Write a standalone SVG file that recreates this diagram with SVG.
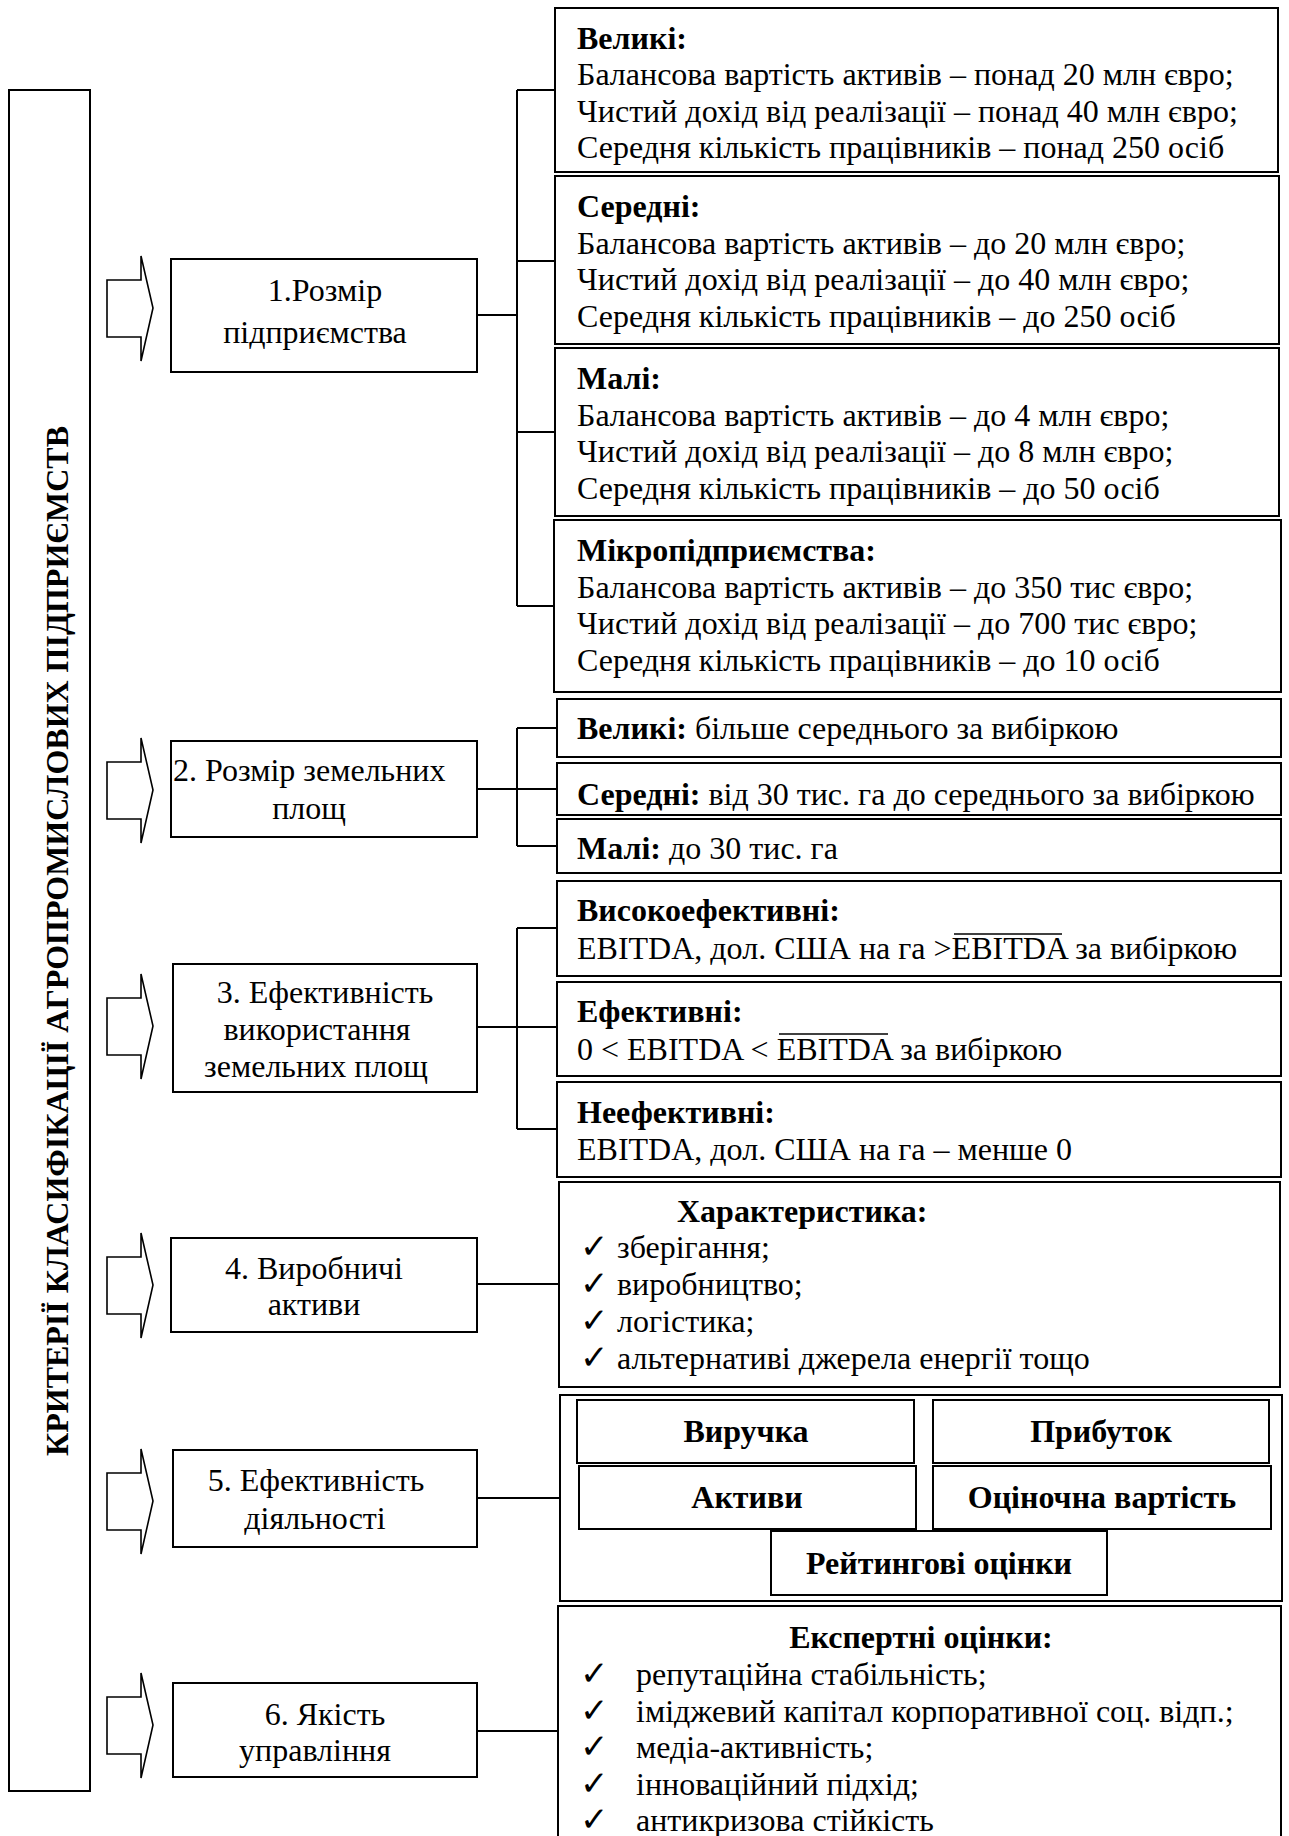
<svg xmlns="http://www.w3.org/2000/svg" xmlns:xlink="http://www.w3.org/1999/xlink" width="1289" height="1836" viewBox="0 0 1289 1836">
  <style>
    .box { fill: #fff; stroke: #000; stroke-width: 2; }
    .ln { fill: none; stroke: #000; stroke-width: 2; }
    .ovl { fill: none; stroke: #000; stroke-width: 1.5; }
    .arrow { fill: #fff; stroke: #000; stroke-width: 1.6; stroke-linejoin: miter; }
    .t { font-family: "Liberation Serif", "Times New Roman", serif; font-size: 32px; fill: #000; }
    .b { font-weight: bold; }
    .c { text-anchor: middle; }
    .chk { font-family: "DejaVu Sans", sans-serif; font-size: 34px; fill: #000; }
  </style>
  <defs>
    <!-- block arrow pointing right, origin at the tip's vertical centre -->
    <path id="arr" class="arrow" d="M0,-28 H34 V-52 L46,0 L34,53 V29 H0 Z"/>
    <clipPath id="clipLandMid"><rect x="557" y="763" width="724" height="51"/></clipPath>
  </defs>
  <rect width="1289" height="1836" fill="#fff"/>

  <!-- vertical title -->
  <g id="title">
    <rect class="box" x="9" y="90" width="81" height="1701"/>
    <text class="t b c" font-size="33" transform="translate(68,941) rotate(-90)" textLength="1030">КРИТЕРІЇ КЛАСИФІКАЦІЇ АГРОПРОМИСЛОВИХ ПІДПРИЄМСТВ</text>
  </g>

  <!-- block arrows -->
  <g id="arrows">
    <use xlink:href="#arr" x="107" y="308"/>
    <use xlink:href="#arr" x="107" y="790"/>
    <use xlink:href="#arr" x="107" y="1026"/>
    <use xlink:href="#arr" x="107" y="1285"/>
    <use xlink:href="#arr" x="107" y="1501"/>
    <use xlink:href="#arr" x="107" y="1725"/>
  </g>

  <!-- connectors -->
  <g id="connectors" class="ln">
    <path d="M477,315 H517 M517,90 V606 M517,90 H555 M517,261 H555 M517,432 H555 M517,606 H554"/>
    <path d="M477,789 H517 M517,728 V846 M517,728 H557 M517,789 H557 M517,846 H557"/>
    <path d="M477,1027 H517 M517,928 V1129 M517,928 H557 M517,1027 H557 M517,1129 H557"/>
    <path d="M477,1284 H559"/>
    <path d="M477,1498 H560"/>
    <path d="M477,1731 H558"/>
  </g>

  <!-- criteria -->
  <g id="c1">
    <rect class="box" x="171" y="259" width="306" height="113"/>
    <text class="t c" x="325" y="301">1.Розмір</text>
    <text class="t c" x="315" y="343">підприємства</text>
  </g>
  <g id="c2">
    <rect class="box" x="171" y="741" width="306" height="96"/>
    <text class="t" x="173" y="781">2. Розмір земельних</text>
    <text class="t c" x="309" y="819">площ</text>
  </g>
  <g id="c3">
    <rect class="box" x="173" y="964" width="304" height="128"/>
    <text class="t c" x="325" y="1003">3. Ефективність</text>
    <text class="t c" x="317" y="1040">використання</text>
    <text class="t c" x="316" y="1077">земельних площ</text>
  </g>
  <g id="c4">
    <rect class="box" x="171" y="1238" width="306" height="94"/>
    <text class="t c" x="314" y="1279">4. Виробничі</text>
    <text class="t c" x="314" y="1315">активи</text>
  </g>
  <g id="c5">
    <rect class="box" x="173" y="1450" width="304" height="97"/>
    <text class="t c" x="316" y="1491">5. Ефективність</text>
    <text class="t c" x="315" y="1529">діяльності</text>
  </g>
  <g id="c6">
    <rect class="box" x="173" y="1683" width="304" height="94"/>
    <text class="t c" x="325" y="1725">6. Якість</text>
    <text class="t c" x="315" y="1761">управління</text>
  </g>

  <!-- enterprise size -->
  <g id="size-large">
    <rect class="box" x="555" y="8" width="723" height="164"/>
    <text class="t b" x="577" y="49">Великі:</text>
    <text class="t" x="577" y="85">Балансова вартість активів – понад 20 млн євро;</text>
    <text class="t" x="577" y="121.5">Чистий дохід від реалізації – понад 40 млн євро;</text>
    <text class="t" x="577" y="158">Середня кількість працівників – понад 250 осіб</text>
  </g>
  <g id="size-medium">
    <rect class="box" x="555" y="176" width="724" height="168"/>
    <text class="t b" x="577" y="217">Середні:</text>
    <text class="t" x="577" y="253.5">Балансова вартість активів – до 20 млн євро;</text>
    <text class="t" x="577" y="290">Чистий дохід від реалізації – до 40 млн євро;</text>
    <text class="t" x="577" y="326.5">Середня кількість працівників – до 250 осіб</text>
  </g>
  <g id="size-small">
    <rect class="box" x="555" y="348" width="724" height="168"/>
    <text class="t b" x="577" y="389">Малі:</text>
    <text class="t" x="577" y="425.5">Балансова вартість активів – до 4 млн євро;</text>
    <text class="t" x="577" y="462">Чистий дохід від реалізації – до 8 млн євро;</text>
    <text class="t" x="577" y="498.5">Середня кількість працівників – до 50 осіб</text>
  </g>
  <g id="size-micro">
    <rect class="box" x="554" y="520" width="727" height="172"/>
    <text class="t b" x="577" y="561">Мікропідприємства:</text>
    <text class="t" x="577" y="597.5">Балансова вартість активів – до 350 тис євро;</text>
    <text class="t" x="577" y="634">Чистий дохід від реалізації – до 700 тис євро;</text>
    <text class="t" x="577" y="670.5">Середня кількість працівників – до 10 осіб</text>
  </g>

  <!-- land area -->
  <g id="land-large">
    <rect class="box" x="557" y="699" width="724" height="58"/>
    <text class="t" x="577" y="739"><tspan class="b">Великі:</tspan> більше середнього за вибіркою</text>
  </g>
  <g id="land-medium">
    <rect class="box" x="557" y="763" width="724" height="52"/>
    <text class="t" x="577" y="805" clip-path="url(#clipLandMid)"><tspan class="b">Середні:</tspan> від 30 тис. га до середнього за вибіркою</text>
  </g>
  <g id="land-small">
    <rect class="box" x="557" y="819" width="724" height="54"/>
    <text class="t" x="577" y="859"><tspan class="b">Малі:</tspan> до 30 тис. га</text>
  </g>

  <!-- land use efficiency -->
  <g id="eff-high">
    <rect class="box" x="557" y="881" width="724" height="95"/>
    <text class="t b" x="577" y="921">Високоефективні:</text>
    <text class="t" x="577" y="959">EBITDA, дол. США на га &gt;EBITDA за вибіркою</text>
    <line class="ovl" x1="954" y1="934" x2="1062" y2="934"/>
  </g>
  <g id="eff-mid">
    <rect class="box" x="557" y="982" width="724" height="94"/>
    <text class="t b" x="577" y="1022">Ефективні:</text>
    <text class="t" x="577" y="1060">0 &lt; EBITDA &lt; EBITDA за вибіркою</text>
    <line class="ovl" x1="779" y1="1034" x2="888" y2="1034"/>
  </g>
  <g id="eff-low">
    <rect class="box" x="557" y="1082" width="724" height="95"/>
    <text class="t b" x="577" y="1123">Неефективні:</text>
    <text class="t" x="577" y="1160">EBITDA, дол. США на га – менше 0</text>
  </g>

  <!-- production assets -->
  <g id="assets">
    <rect class="box" x="559" y="1182" width="721" height="205"/>
    <text class="t b" x="677" y="1222">Характеристика:</text>
    <text class="chk" x="580" y="1258">✓</text>
    <text class="t" x="617" y="1258">зберігання;</text>
    <text class="chk" x="580" y="1295">✓</text>
    <text class="t" x="617" y="1295">виробництво;</text>
    <text class="chk" x="580" y="1332">✓</text>
    <text class="t" x="617" y="1332">логістика;</text>
    <text class="chk" x="580" y="1369">✓</text>
    <text class="t" x="617" y="1369">альтернативі джерела енергії тощо</text>
  </g>

  <!-- performance -->
  <g id="performance">
    <rect class="box" x="560" y="1395" width="722" height="206"/>
    <rect class="box" x="577" y="1400" width="337" height="63"/>
    <text class="t b c" x="746" y="1442">Виручка</text>
    <rect class="box" x="933" y="1400" width="336" height="63"/>
    <text class="t b c" x="1101" y="1442">Прибуток</text>
    <rect class="box" x="579" y="1466" width="337" height="63"/>
    <text class="t b c" x="747" y="1508">Активи</text>
    <rect class="box" x="933" y="1466" width="338" height="63"/>
    <text class="t b c" x="1102" y="1508">Оціночна вартість</text>
    <rect class="box" x="771" y="1531" width="336" height="64"/>
    <text class="t b c" x="939" y="1574">Рейтингові оцінки</text>
  </g>

  <!-- management quality -->
  <g id="management">
    <rect class="box" x="558" y="1606" width="723" height="250"/>
    <text class="t b c" x="921" y="1648">Експертні оцінки:</text>
    <text class="chk" x="580" y="1685">✓</text>
    <text class="t" x="636" y="1685">репутаційна стабільність;</text>
    <text class="chk" x="580" y="1721.5">✓</text>
    <text class="t" x="636" y="1721.5">іміджевий капітал корпоративної соц. відп.;</text>
    <text class="chk" x="580" y="1758">✓</text>
    <text class="t" x="636" y="1758">медіа-активність;</text>
    <text class="chk" x="580" y="1794.5">✓</text>
    <text class="t" x="636" y="1794.5">інноваційний підхід;</text>
    <text class="chk" x="580" y="1831">✓</text>
    <text class="t" x="636" y="1831">антикризова стійкість</text>
  </g>
</svg>
